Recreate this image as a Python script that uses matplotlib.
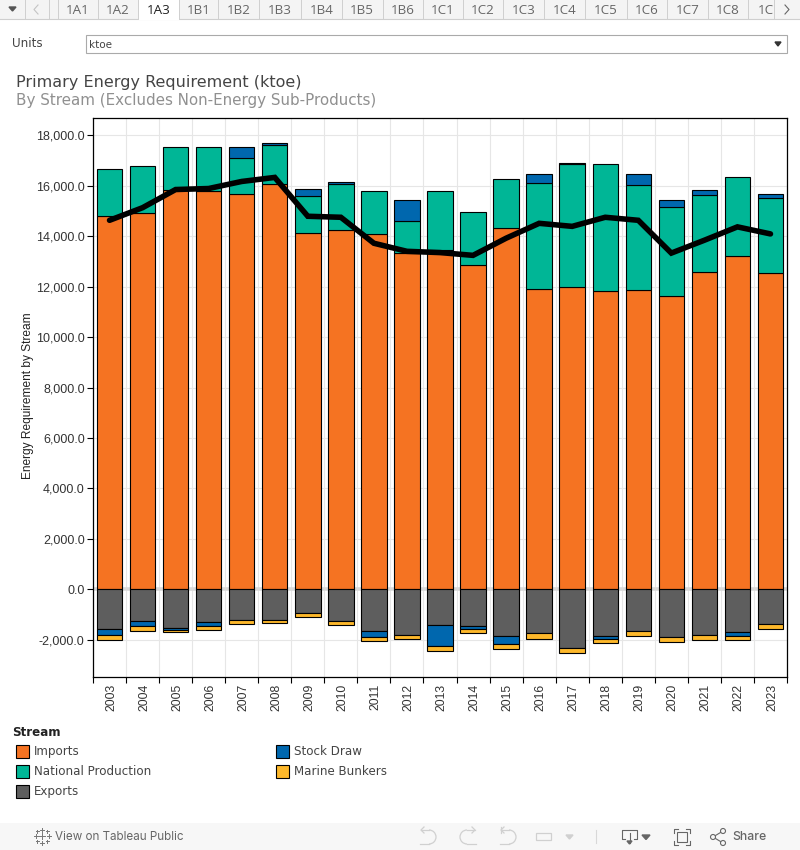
import matplotlib
matplotlib.use('Agg')
import matplotlib.pyplot as plt
from matplotlib.patches import Rectangle, Arc, Circle
from matplotlib.transforms import ScaledTranslation
import numpy as np

years = list(range(2003, 2024))
imports = [14820, 14915, 15830, 15810, 15670, 16070, 14120, 14240, 14080, 13330, 13450,
           12870, 14320, 11920, 11995, 11835, 11875, 11640, 12590, 13210, 12550]
production = [1840, 1865, 1700, 1720, 1425, 1540, 1470, 1830, 1710, 1270, 2340,
              2090, 1945, 4185, 4865, 5025, 4150, 3515, 3040, 3135, 2960]
stock_draw = [-238, -198, -54, -159, 435, 80, 280, 70, -238, 830, -833,
              -93, -317, 355, 40, -92, 435, 275, 200, -132, 160]
exports = [-1586, -1269, -1546, -1308, -1229, -1229, -951, -1269, -1665, -1824, -1427,
           -1467, -1864, -1745, -2340, -1864, -1665, -1903, -1824, -1705, -1388]
bunkers = [-198, -171, -78, -133, -132, -92, -133, -131, -132, -132, -171,
           -158, -171, -211, -170, -158, -172, -172, -172, -159, -172]
requirement = [14630, 15130, 15850, 15890, 16170, 16330, 14790, 14750, 13720, 13400, 13350,
               13240, 13920, 14510, 14390, 14750, 14630, 13330, 13840, 14370, 14090]

tabs = ['1A1', '1A2', '1A3', '1B1', '1B2', '1B3', '1B4', '1B5', '1B6', '1C1',
        '1C2', '1C3', '1C4', '1C5', '1C6', '1C7', '1C8', '1C9']
tab_edges = [58, 97.7, 138, 179, 218, 259, 300.7, 341.7, 382.7, 423, 462.7,
             503, 544, 585, 626.7, 667, 707.7, 748, 774]

ORANGE = '#f57322'
TEAL = '#00b696'
GREY = '#5e5e5e'
BLUE = '#0067ae'
AMBER = '#fdb82b'

W, H = 800, 850
fig = plt.figure(figsize=(8, 8.5), dpi=100, facecolor='white')

# chart
ax = fig.add_axes([93 / W, (H - 677) / H, 694 / W, 559 / H], zorder=2)
x = np.arange(len(years))
bar_w = 0.77


def stack(values, base, color):
    vals = np.array(values, dtype=float)
    keep = vals != 0
    ax.bar(x[keep], vals[keep], bottom=base[keep], width=bar_w, color=color,
           edgecolor='black', linewidth=0.8, zorder=3)
    return base + vals


stock = np.array(stock_draw, dtype=float)
top = stack(imports, np.zeros(len(x)), ORANGE)
top = stack(production, top, TEAL)
stack(np.where(stock > 0, stock, 0), top, BLUE)
low = stack(exports, np.zeros(len(x)), GREY)
low = stack(np.where(stock < 0, stock, 0), low, BLUE)
stack(bunkers, low, AMBER)
ax.plot(x, requirement, color='black', lw=4.0, solid_joinstyle='miter',
        solid_capstyle='round', zorder=4)

ax.set_xlim(-0.5, 20.5)
ax.set_ylim(-3477, 18686)
ax.set_yticks(np.arange(-2000, 18001, 2000))
ax.set_yticklabels([f'{v:,.1f}' for v in np.arange(-2000, 18001, 2000)],
                   family='Liberation Sans', fontsize=9, color='#333333')
ax.set_xticks(x)
ax.set_xticklabels(years, rotation=90, family='Liberation Sans', fontsize=8.8, color='#333333')
ax.set_xticks(np.arange(-0.5, 21), minor=True)
ax.tick_params(axis='x', which='major', length=0, pad=5)
ax.tick_params(axis='x', which='minor', length=4.5, width=0.8, color='black')
ax.tick_params(axis='y', which='major', length=4, width=0.8, color='black', pad=2)
# labels sit a little right of the bar centre, set after tick_params which resets transforms
shift = ScaledTranslation(1.5 / 100, 0, fig.dpi_scale_trans)
for lab in ax.get_xticklabels():
    lab.set_transform(lab.get_transform() + shift)
ax.grid(True, axis='y', color='#e6e6e6', lw=0.8, zorder=0)
ax.grid(True, axis='x', which='minor', color='#e6e6e6', lw=0.8, zorder=0)
ax.axhline(0, color='#d9d9d9', lw=2.6, zorder=1)
ax.set_axisbelow(True)
for s in ax.spines.values():
    s.set_linewidth(0.9)
    s.set_color('black')
fig.text(27.5 / W, 1 - 396 / H, 'Energy Requirement by Stream', rotation=90, ha='center', va='center',
         family='Liberation Sans', fontsize=8.6, color='#222222')

# dashboard furniture, in pixel coordinates
ui = fig.add_axes([0, 0, 1, 1], zorder=1)
ui.set_xlim(0, W)
ui.set_ylim(H, 0)
ui.axis('off')

ui.add_patch(Rectangle((0, 0), W, 19, fc='#f4f4f4', ec='none'))
ui.plot([0, W], [19, 19], color='#cfcfcf', lw=0.8)
ui.add_patch(Rectangle((138, 0), 41, 20, fc='white', ec='none', zorder=3))
for ex in [25, 49] + tab_edges:
    ui.plot([ex, ex], [0, 19], color='#cfcfcf', lw=0.7, zorder=4)
ui.fill([9, 16, 12.5], [7, 7, 11], color='#555555')
ui.plot([38, 34, 38], [5, 9.5, 14], color='#c4c4c4', lw=0.8)
ui.plot([785, 789, 785], [5, 9.5, 14], color='#666666', lw=0.8)
for i, name in enumerate(tabs):
    last = i == len(tabs) - 1
    left = tab_edges[i] + 10 if last else (tab_edges[i] + tab_edges[i + 1]) / 2
    t = ui.text(left, 10, name, ha='left' if last else 'center', va='center',
                family='Open Sans', fontsize=9.6,
                color='#222222' if name == '1A3' else '#666666', zorder=5)
    t.set_clip_path(Rectangle((tab_edges[i], 0), tab_edges[i + 1] - tab_edges[i] - 1, 19,
                              transform=ui.transData))
    t.set_clip_on(True)

ui.text(12, 47, 'Units', family='DejaVu Sans', fontsize=8.6, color='#444444', va='baseline')
ui.add_patch(Rectangle((85.5, 34.5), 701, 18.5, fc='white', ec='#aaaaaa', lw=0.8))
ui.text(89, 48, 'ktoe', family='DejaVu Sans', fontsize=7.5, color='#444444', va='baseline')
ui.fill([775, 781, 778], [42, 42, 46], color='#333333')

ui.text(16, 82, 'Primary Energy Requirement (ktoe)', family='DejaVu Sans', fontsize=11.5,
        color='#444444', va='center')
ui.text(16, 100.5, 'By Stream (Excludes Non-Energy Sub-Products)', family='DejaVu Sans', fontsize=10.9,
        color='#909090', va='center')

# legend
ui.text(12, 736, 'Stream', family='DejaVu Sans', fontsize=8.6, fontweight='bold', color='#222222', va='baseline')
legend_items = [('Imports', ORANGE, 15.5, 751), ('National Production', TEAL, 15.5, 771),
                ('Exports', GREY, 15.5, 791), ('Stock Draw', BLUE, 275.5, 751),
                ('Marine Bunkers', AMBER, 275.5, 771)]
for label, color, lx, ly in legend_items:
    ui.add_patch(Rectangle((lx, ly - 6.5), 13, 13, fc=color, ec='black', lw=0.8))
    ui.text(lx + 18.5, ly + 4, label, family='DejaVu Sans', fontsize=8.6, color='#444444', va='baseline')

# footer
ui.add_patch(Rectangle((0, 823), W, 27, fc='#f7f7f7', ec='none'))
for cx, cy, r in [(42, 836, 3), (42, 829.5, 2), (42, 842.5, 2), (35.5, 836, 2), (48.5, 836, 2),
                  (37, 831, 1.5), (47, 831, 1.5), (37, 841, 1.5), (47, 841, 1.5)]:
    ui.plot([cx - r, cx + r], [cy, cy], color='#777777', lw=0.7)
    ui.plot([cx, cx], [cy - r, cy + r], color='#777777', lw=0.7)
ui.text(55, 837, 'View on Tableau Public', family='Inter', fontsize=8.4, color='#666666', va='center')

GHOST = '#d0d0d0'
for ax0, flip in [(429, 1), (467, -1), (509, 1)]:
    ui.add_patch(Arc((ax0, 837), 14, 14, theta1=-90 if flip > 0 else 90,
                     theta2=90 if flip > 0 else 270, color=GHOST, lw=0.9))
    ui.plot([ax0 - flip * 8, ax0], [830, 830], color=GHOST, lw=0.9)
    ui.plot([ax0 - flip * 5, ax0 - flip * 8, ax0 - flip * 5], [827, 830, 833], color=GHOST, lw=0.9)
    ui.plot([ax0 - flip * 9, ax0], [844, 844], color=GHOST, lw=0.9)
ui.plot([500.5, 500.5], [827, 833], color=GHOST, lw=0.9)
ui.add_patch(Rectangle((536, 833), 15, 7, fc='none', ec=GHOST, lw=0.9))
ui.fill([566, 573, 569.5], [835, 835, 839], color=GHOST)
ui.plot([595.5, 595.5], [830, 843], color='#d8d8d8', lw=0.8)

ui.plot([625, 622, 622, 637, 637, 634], [839, 839, 829.5, 829.5, 839, 839], color='#666666', lw=0.8)
ui.plot([629.5, 629.5], [833, 843], color='#666666', lw=0.8)
ui.fill([627, 632, 629.5], [841, 841, 844], color='#666666')
ui.fill([642, 650, 646], [835, 835, 839.5], color='#666666')
ui.add_patch(Rectangle((677, 832), 10, 10, fc='none', ec='#666666', lw=0.8))
for hx, hy, dx, dy in [(673.5, 829, 1, 1), (690, 829, -1, 1), (673.5, 845, 1, -1), (690, 845, -1, -1)]:
    ui.plot([hx + dx * 4, hx, hx], [hy, hy, hy + dy * 4], color='#666666', lw=0.8)
ui.plot([723, 713, 723], [831, 837, 843], color='#666666', lw=0.8)
for cx, cy, r in [(713, 837, 2.5), (723, 831, 2.5), (723, 843, 2.5)]:
    ui.add_patch(Circle((cx, cy), r, fc='#f7f7f7', ec='#666666', lw=0.8, zorder=3))
ui.text(732, 837, 'Share', family='Inter', fontsize=8.8, fontweight='medium', color='#666666', va='center')

fig.savefig('out.png', dpi=100)
